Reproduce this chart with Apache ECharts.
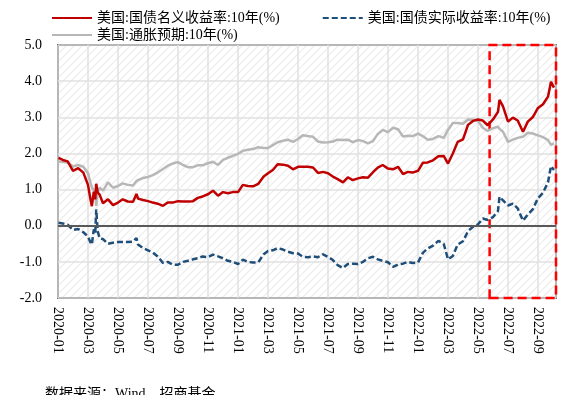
<!DOCTYPE html>
<html><head><meta charset="utf-8">
<script src="https://cdn.jsdelivr.net/npm/echarts@6/dist/echarts.min.js"></script>
<style>html,body{margin:0;padding:0;background:#fff}#c{width:569px;height:395px}</style>
</head><body><div id="c"></div>
<script>
const dates = [
 '2020-01-02','2020-01-11','2020-01-21','2020-02-01','2020-02-11','2020-02-21',
 '2020-03-01','2020-03-06','2020-03-09','2020-03-13','2020-03-16','2020-03-18','2020-03-21','2020-03-25',
 '2020-04-01','2020-04-11','2020-04-21','2020-05-01','2020-05-11','2020-05-21',
 '2020-06-01','2020-06-08','2020-06-11','2020-06-21',
 '2020-07-01','2020-07-11','2020-07-21','2020-08-01','2020-08-11','2020-08-21',
 '2020-09-01','2020-09-11','2020-09-21','2020-10-01','2020-10-11','2020-10-21',
 '2020-11-01','2020-11-11','2020-11-21','2020-12-01','2020-12-11','2020-12-21',
 '2021-01-01','2021-01-11','2021-01-21','2021-02-01','2021-02-11','2021-02-21',
 '2021-03-01','2021-03-11','2021-03-21','2021-04-01','2021-04-11','2021-04-21',
 '2021-05-01','2021-05-11','2021-05-21','2021-06-01','2021-06-11','2021-06-21',
 '2021-07-01','2021-07-11','2021-07-21','2021-08-01','2021-08-11','2021-08-21',
 '2021-09-01','2021-09-11','2021-09-21','2021-10-01','2021-10-11','2021-10-21',
 '2021-11-01','2021-11-11','2021-11-21','2021-12-01','2021-12-11','2021-12-21',
 '2022-01-01','2022-01-11','2022-01-21','2022-02-01','2022-02-11','2022-02-21',
 '2022-03-01','2022-03-11','2022-03-21','2022-04-01','2022-04-11','2022-04-21',
 '2022-05-01','2022-05-11','2022-05-21','2022-06-01','2022-06-11','2022-06-14','2022-06-21',
 '2022-07-01','2022-07-11','2022-07-21','2022-08-01','2022-08-11','2022-08-21',
 '2022-09-01','2022-09-11','2022-09-21','2022-09-27','2022-10-03'
];
const nominal = [
 1.88,1.82,1.78,1.52,1.59,1.47,
 1.13,0.74,0.54,0.94,0.73,1.16,0.92,0.86,
 0.62,0.73,0.57,0.64,0.73,0.67,
 0.66,0.88,0.75,0.71,
 0.68,0.64,0.61,0.55,0.64,0.64,
 0.68,0.67,0.67,0.68,0.77,0.81,
 0.87,0.97,0.83,0.93,0.90,0.93,
 0.93,1.13,1.10,1.09,1.16,1.36,
 1.45,1.54,1.70,1.69,1.66,1.56,
 1.63,1.63,1.63,1.61,1.46,1.49,
 1.45,1.36,1.29,1.20,1.34,1.26,
 1.31,1.34,1.33,1.48,1.61,1.68,
 1.58,1.56,1.63,1.43,1.49,1.47,
 1.52,1.74,1.75,1.81,1.92,1.93,
 1.72,2.00,2.32,2.39,2.79,2.90,
 2.94,2.91,2.78,2.94,3.15,3.48,3.30,
 2.88,2.99,2.91,2.60,2.88,3.00,
 3.26,3.36,3.57,3.98,3.82
];
const real = [
 0.08,0.06,0.03,-0.12,-0.09,-0.18,
 -0.30,-0.46,-0.52,-0.10,-0.20,0.45,-0.15,-0.35,
 -0.37,-0.50,-0.47,-0.45,-0.45,-0.45,
 -0.44,-0.34,-0.52,-0.62,
 -0.68,-0.74,-0.85,-1.03,-1.00,-1.08,
 -1.08,-1.00,-0.97,-0.93,-0.90,-0.85,
 -0.87,-0.80,-0.85,-0.90,-0.97,-1.00,
 -1.06,-0.94,-1.00,-1.02,-1.01,-0.79,
 -0.70,-0.68,-0.62,-0.66,-0.72,-0.76,
 -0.77,-0.86,-0.87,-0.85,-0.87,-0.79,
 -0.86,-0.95,-1.09,-1.17,-1.06,-1.05,
 -1.06,-1.00,-0.90,-0.86,-0.93,-0.97,
 -1.01,-1.14,-1.07,-1.05,-1.00,-1.03,
 -1.02,-0.75,-0.63,-0.55,-0.42,-0.50,
 -0.93,-0.84,-0.52,-0.43,-0.15,-0.03,
 0.04,0.20,0.16,0.24,0.41,0.80,0.70,
 0.56,0.61,0.48,0.14,0.31,0.45,
 0.76,0.91,1.20,1.65,1.54
];
const breakeven = [
 1.78,1.76,1.75,1.64,1.68,1.63,
 1.45,1.20,1.06,1.04,0.93,0.55,0.92,1.05,
 0.97,1.20,1.05,1.10,1.17,1.13,
 1.11,1.24,1.27,1.32,
 1.35,1.40,1.47,1.57,1.66,1.72,
 1.76,1.68,1.62,1.62,1.67,1.67,
 1.73,1.77,1.68,1.82,1.88,1.93,
 1.99,2.07,2.10,2.12,2.17,2.15,
 2.15,2.23,2.31,2.35,2.38,2.32,
 2.40,2.50,2.48,2.46,2.33,2.30,
 2.31,2.33,2.38,2.37,2.38,2.31,
 2.37,2.34,2.28,2.34,2.54,2.65,
 2.59,2.71,2.67,2.47,2.49,2.48,
 2.55,2.48,2.38,2.40,2.48,2.43,
 2.65,2.84,2.84,2.82,2.94,2.93,
 2.90,2.71,2.62,2.70,2.74,2.68,2.60,
 2.32,2.38,2.43,2.46,2.57,2.55,
 2.50,2.45,2.37,2.24,2.28
];
const tickLabels = ['2020-01','2020-03','2020-05','2020-07','2020-09','2020-11','2021-01','2021-03','2021-05','2021-07','2021-09','2021-11','2022-01','2022-03','2022-05','2022-07','2022-09'];
const highlightRange = ['2022-05-25','2022-10-14'];
const names = ['美国:国债名义收益率:10年(%)','美国:国债实际收益率:10年(%)','美国:通胀预期:10年(%)'];

function toX(s){const [y,m,d]=s.split('-').map(Number);const dim=new Date(y,m,0).getDate();return (y-2020)*12+(m-1)+(d-1)/dim;}
const pair = arr => dates.map((d,i)=>[toX(d),arr[i]]);

const pc=document.createElement('canvas');pc.width=8;pc.height=8;
const g=pc.getContext('2d');g.fillStyle='#fff';g.fillRect(0,0,8,8);
g.strokeStyle='#ececec';g.lineWidth=1.2;
g.beginPath();g.moveTo(0,8);g.lineTo(8,0);g.moveTo(-2,2);g.lineTo(2,-2);g.moveTo(6,10);g.lineTo(10,6);g.stroke();

const font="'Liberation Serif','Noto Sans CJK SC',serif";
const legendText={fontFamily:font,fontSize:14,color:'#000'};
const chart=echarts.init(document.getElementById('c'),null,{renderer:'canvas'});
chart.setOption({
 animation:false,
 backgroundColor:'#fff',
 textStyle:{fontFamily:font},
 legend:[
  {data:[names[0],names[1]],left:46,top:6,itemWidth:40,itemHeight:12,itemGap:42,
   itemStyle:{opacity:0},textStyle:legendText},
  {data:[names[2]],left:46,top:23,itemWidth:40,itemHeight:12,
   itemStyle:{opacity:0},textStyle:legendText}
 ],
 grid:{left:58,right:13,top:45,bottom:97,show:true,borderColor:'#000',borderWidth:1.5,
   backgroundColor:{image:pc,repeat:'repeat'}},
 xAxis:{type:'value',min:0,max:33.2,interval:2,
   axisLine:{show:false},axisTick:{show:false},
   splitLine:{show:true,lineStyle:{color:'#e0e0e0',width:1.5}},
   axisLabel:{rotate:-90,margin:9,fontSize:14,color:'#000',fontFamily:font,showMaxLabel:false,
     formatter:v=>{const k=Math.round(v/2);return Math.abs(v-2*k)<1e-6&&tickLabels[k]?tickLabels[k]:'';}}},
 yAxis:{type:'value',min:-2,max:5,interval:1,
   axisLine:{show:false},axisTick:{show:false},
   splitLine:{show:true,lineStyle:{color:'#e0e0e0',width:1.5}},
   axisLabel:{margin:16,fontSize:14,color:'#000',fontFamily:font,formatter:v=>v.toFixed(1)}},
 series:[
  {name:names[2],type:'line',data:pair(breakeven),symbol:'none',lineStyle:{color:'#b7b7b7',width:2.5},itemStyle:{color:'#b7b7b7'},z:2,
   markLine:{silent:true,symbol:['none','none'],label:{show:false},lineStyle:{color:'#595959',width:2,type:'solid'},data:[{yAxis:0}]}},
  {name:names[1],type:'line',data:pair(real),symbol:'none',lineStyle:{color:'#1f4e79',width:2.5,type:[6,3]},itemStyle:{color:'#1f4e79'},z:3},
  {name:names[0],type:'line',data:pair(nominal),symbol:'none',lineStyle:{color:'#c00000',width:2.5},itemStyle:{color:'#c00000'},z:4,clip:false,
   markArea:{silent:true,itemStyle:{color:'rgba(0,0,0,0)',borderColor:'#ff0000',borderWidth:2.5,borderType:[9,5]},
     data:[[{xAxis:toX(highlightRange[0]),yAxis:-2},{xAxis:toX(highlightRange[1]),yAxis:5}]]}}
 ],
 graphic:[{type:'text',left:45,top:387,style:{text:'数据来源：Wind，招商基金',fontSize:14,fontFamily:font,fill:'#000'}}]
});
</script></body></html>
